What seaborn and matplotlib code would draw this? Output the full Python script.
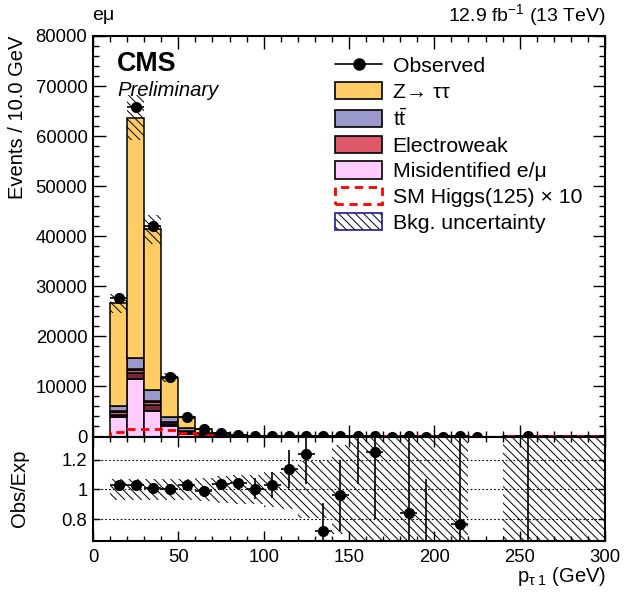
import numpy as np
import pandas as pd
import matplotlib
matplotlib.use("Agg")
import matplotlib.pyplot as plt
import seaborn as sns
from matplotlib.patches import Patch
from matplotlib.lines import Line2D
from matplotlib.ticker import MultipleLocator

sns.set_style("ticks")
plt.rcParams["font.family"] = ["Liberation Sans", "DejaVu Sans"]
plt.rcParams["mathtext.fontset"] = "custom"
plt.rcParams["mathtext.rm"] = "Liberation Sans"
plt.rcParams["mathtext.it"] = "Liberation Sans:italic"
plt.rcParams["mathtext.bf"] = "Liberation Sans:bold"
plt.rcParams["hatch.linewidth"] = 0.7
plt.rcParams["axes.axisbelow"] = False
for key in ["text.color", "axes.labelcolor", "xtick.color", "ytick.color", "axes.edgecolor"]:
    plt.rcParams[key] = "black"

# ---- binning: leading pT, 10 GeV bins from 0 to 300 ----
bin_edges = np.arange(0, 310, 10)
bin_centers = bin_edges[:-1] + 5

# ---- background processes (events per bin) ----
ztt = [0, 20585, 48080, 32100, 7800, 2230, 880, 350, 145, 65, 30, 14, 7, 4, 2,
       1.5, 1, 0.7, 0.5, 0.4, 0.3, 0.2, 0, 0, 0.1, 0.1, 0.1, 0.05, 0.05, 0.05]
ttbar = [0, 1015, 2180, 2320, 980, 560, 230, 120, 70, 40, 25, 15, 9, 6, 4,
         3, 2, 1.5, 1.2, 1, 0.8, 0.6, 0, 0, 0.3, 0.3, 0.2, 0.2, 0.1, 0.1]
zll = [0, 180, 200, 200, 150, 80, 40, 20, 10, 5, 3, 2, 1, 0.5, 0.3,
       0.2, 0.1, 0.1, 0.1, 0.1, 0.05, 0.05, 0, 0, 0.05, 0.05, 0.02, 0.02, 0.02, 0.02]
electroweak = [0, 450, 480, 460, 320, 160, 80, 40, 20, 12, 7, 4, 3, 2, 1,
               1, 0.5, 0.4, 0.3, 0.2, 0.2, 0.1, 0, 0, 0.1, 0.1, 0.1, 0.05, 0.05, 0.05]
diboson = [0, 540, 1310, 1190, 480, 250, 100, 45, 20, 10, 5, 3, 1, 1, 0.5,
           0.3, 0.2, 0.2, 0.1, 0.1, 0.1, 0.05, 0, 0, 0.05, 0.05, 0.02, 0.02, 0.02, 0.02]
misid = [0, 3830, 11450, 5160, 2040, 550, 200, 80, 35, 15, 8, 4, 2, 1, 1,
         0.5, 0.4, 0.3, 0.2, 0.2, 0.1, 0.1, 0, 0, 0.1, 0.1, 0.05, 0.05, 0.05, 0.05]

# SM Higgs (125) signal, scaled by 10
higgs_x10 = [0, 840, 1560, 1440, 1250, 600, 250, 120, 60, 30, 15, 8, 5, 3, 2,
             1, 1, 0.5, 0.5, 0.3, 0.3, 0.2, 0, 0, 0.1, 0.1, 0.1, 0.1, 0.1, 0.1]

# observed events
nan = np.nan
observed = [nan, 27600, 65900, 42100, 11900, 3950, 1520, 680, 315, 148, 80, 48, 30, 10, 13,
            9, 5, 0, 2, 0, 0, 1, 0, nan, nan, 1, nan, nan, nan, nan]

# relative background uncertainty per bin
bkg_unc = [nan, 0.07, 0.07, 0.07, 0.07, 0.07, 0.075, 0.09, 0.10, 0.10, 0.116, 0.135, 0.19, 0.19, 0.30,
           1, 1, 1, 1, 1, 1, 1, nan, nan, 1, 1, 1, 1, 1, 1]

# observed / expected with asymmetric errors
ratio = [nan, 1.027, 1.03, 1.01, 1.0, 1.027, 0.99, 1.04, 1.047, 1.005, 1.03, 1.14, 1.24, 0.72, 0.96,
         1.55, 1.25, 0, 0.84, 0, 0, 0.77, nan, nan, nan, 0, nan, nan, nan, nan]
ratio_err_lo = [0, 0.005, 0.005, 0.005, 0.005, 0.005, 0.008, 0.02, 0.03, 0.07, 0.09, 0.13, 0.2, 0.2, 0.24,
                0.51, 0.45, 0, 0.6, 0, 0, 0.7, 0, 0, 0, 0, 0, 0, 0, 0]
ratio_err_hi = [0, 0.005, 0.005, 0.005, 0.005, 0.005, 0.008, 0.02, 0.03, 0.07, 0.09, 0.13, 0.2, 0.19, 0.24,
                0.6, 0.5, 0.5, 0.6, 1.07, 0.5, 0.8, 0, 0, 0, 2.0, 0, 0, 0, 0]

process_names = ["Z→ ττ", "ttbar", "ZL", "Electroweak", "Diboson", "Misidentified e/μ"]
process_values = [ztt, ttbar, zll, electroweak, diboson, misid]
process_colors = {
    "Z→ ττ": "#FFCC66",
    "ttbar": "#9999CC",
    "ZL": "#3040C8",
    "Electroweak": "#DE5A6A",
    "Diboson": "#6E2A35",
    "Misidentified e/μ": "#FFCCFF",
}

frames = []
for name, vals in zip(process_names, process_values):
    frames.append(pd.DataFrame({"pt": bin_centers.astype(float),
                                "events": np.asarray(vals, dtype=float),
                                "process": name}))
stack_df = pd.concat(frames, ignore_index=True)

total = np.sum(np.array(process_values, dtype=float), axis=0)
unc = np.array(bkg_unc, dtype=float)

W, H = 624, 595
fig = plt.figure(figsize=(W / 100, H / 100), dpi=100)
ax = fig.add_axes([93 / W, 1 - 436.5 / H, 512 / W, 400.5 / H])
rax = fig.add_axes([93 / W, 1 - 541 / H, 512 / W, 104.5 / H])

# ---- main panel: stacked backgrounds ----
sns.histplot(data=stack_df, x="pt", weights="events", hue="process",
             hue_order=process_names, bins=30, binrange=(0, 300), multiple="stack",
             element="bars", palette=process_colors, edgecolor="black",
             linewidth=1.1, alpha=1, legend=False, ax=ax)

# background uncertainty band
hatch = "\\\\\\\\"
mask = ~np.isnan(unc) & (total > 0)
ax.bar(bin_centers[mask], (2 * total * unc)[mask], bottom=(total * (1 - unc))[mask],
       width=10, facecolor="none", edgecolor="black", linewidth=0, hatch=hatch, zorder=3)

# Higgs signal x10
ax.stairs(higgs_x10, bin_edges, color="red", linestyle=(0, (3, 2)), linewidth=2.0, zorder=4)

# observed data
obs = np.array(observed, dtype=float)
ax.errorbar(bin_centers, obs, yerr=np.sqrt(np.nan_to_num(obs)), xerr=5, fmt="o",
            color="black", markersize=7, elinewidth=1.2, capsize=0, zorder=5)

ax.set_xlim(0, 300)
ax.set_ylim(0, 80000)
ax.set_xlabel("")
ax.set_ylabel("")
ax.yaxis.set_minor_locator(MultipleLocator(2000))
ax.xaxis.set_major_locator(MultipleLocator(50))
ax.xaxis.set_minor_locator(MultipleLocator(10))
ax.set_yticks(np.arange(0, 80001, 10000))
ax.set_yticklabels([str(v) for v in range(0, 80001, 10000)])
ax.tick_params(axis="x", labelbottom=False)
ax.tick_params(which="both", direction="in", top=True, right=True, bottom=True, left=True,
               width=1.0, color="black")
ax.tick_params(which="major", length=9)
ax.tick_params(which="minor", length=4)
ax.tick_params(axis="y", labelsize=13.3, pad=4)

# ---- ratio panel ----
rmask = ~np.isnan(unc) & (total > 0)
rax.bar(bin_centers[rmask], (2 * unc)[rmask], bottom=(1 - unc)[rmask], width=10,
        facecolor="none", edgecolor="black", linewidth=0, hatch=hatch, zorder=1)
for yv in [0.8, 1.0, 1.2]:
    rax.axhline(yv, color="black", linestyle=(0, (1.5, 2)), linewidth=0.8, zorder=2)
rax.errorbar(bin_centers, ratio, yerr=[ratio_err_lo, ratio_err_hi], xerr=5, fmt="o",
             color="black", markersize=7, elinewidth=1.2, capsize=0, zorder=5)
rax.set_xlim(0, 300)
rax.set_ylim(0.652, 1.358)
rax.set_yticks([0.8, 1.0, 1.2])
rax.set_yticklabels(["0.8", "1", "1.2"])
rax.xaxis.set_major_locator(MultipleLocator(50))
rax.xaxis.set_minor_locator(MultipleLocator(10))
rax.tick_params(which="both", direction="in", top=True, right=True, bottom=True, left=True,
                width=1.0, color="black")
rax.tick_params(axis="x", which="major", length=7)
rax.tick_params(axis="x", which="minor", length=3.5)
rax.tick_params(axis="y", which="major", length=5)
rax.tick_params(labelsize=13.3)
rax.tick_params(axis="x", pad=6)
rax.tick_params(axis="y", pad=4)

for a in (ax, rax):
    for s in a.spines.values():
        s.set_linewidth(1.5)
        s.set_color("black")
        s.set_visible(True)
        s.set_zorder(10)

# ---- labels and annotations ----
fig.text(18 / W, 1 - 36 / H, "Events / 10.0 GeV", rotation=90, ha="center", va="top", fontsize=14.5)
fig.text(19 / W, 1 - 488 / H, "Obs/Exp", rotation=90, ha="center", va="center", fontsize=14.5)
fig.text(606 / W, 1 - 577 / H, r"p$_{\mathregular{\tau\ 1}}$ (GeV)", ha="right", va="center", fontsize=14.5)
fig.text(92 / W, 1 - 15 / H, "eμ", ha="left", va="center", fontsize=14)
fig.text(606 / W, 1 - 15 / H, r"12.9 fb$^{-1}$ (13 TeV)", ha="right", va="center", fontsize=14)
ax.text(0.047, 0.930, "CMS", transform=ax.transAxes, fontsize=19.4, fontweight="bold",
        ha="left", va="center")
ax.text(0.047, 0.863, "Preliminary", transform=ax.transAxes, fontsize=14.6, fontstyle="italic",
        ha="left", va="center")

# ---- legend ----
handles = [
    Line2D([0], [0], color="black", marker="o", markersize=8, linewidth=1.2),
    Patch(facecolor=process_colors["Z→ ττ"], edgecolor="black", linewidth=1.2),
    Patch(facecolor=process_colors["ttbar"], edgecolor="black", linewidth=1.2),
    Patch(facecolor=process_colors["Electroweak"], edgecolor="black", linewidth=1.2),
    Patch(facecolor=process_colors["Misidentified e/μ"], edgecolor="black", linewidth=1.2),
    Patch(facecolor="white", edgecolor="red", linestyle=(0, (3, 2)), linewidth=2.0),
    (Patch(facecolor="white", edgecolor="black", linewidth=0, hatch=hatch),
     Patch(facecolor="none", edgecolor="#1A1A9A", linewidth=1.2)),
]
labels = ["Observed", "Z→ ττ", r"$\mathregular{t\bar{t}}$", "Electroweak",
          "Misidentified e/μ", "SM Higgs(125) × 10", "Bkg. uncertainty"]
ax.legend(handles, labels, loc="upper left", bbox_to_anchor=(0.473, 0.95),
          frameon=False, fontsize=15.3, handlelength=2.2, handleheight=0.86,
          handletextpad=0.5, labelspacing=0.28, borderpad=0, borderaxespad=0)

fig.savefig("out.png", dpi=100)
